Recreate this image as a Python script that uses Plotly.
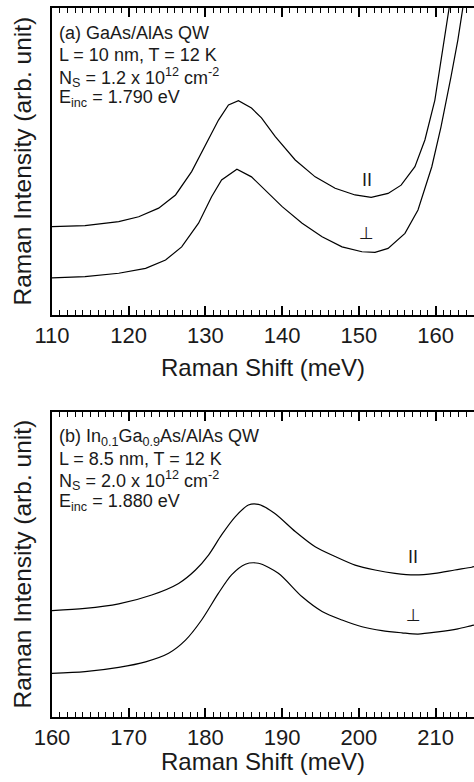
import plotly.graph_objects as go

# ---- Panel (a): GaAs/AlAs QW ----
a_par_x = [110, 114.3, 118.7, 121.3, 123.9, 126.1, 128.2, 130.0, 131.7, 133.0, 134.3, 136.0, 137.3,
           139.1, 141.7, 144.3, 146.9, 149.5, 151.6, 153.8, 155.5, 157.3, 158.6, 159.9, 160.9, 161.8, 162.5]
a_par_y = [28.8, 29.1, 30.4, 32.0, 34.8, 39.1, 46.7, 55.4, 63.5, 68.4, 69.8, 67.4, 64.2,
           58.1, 50.5, 45.0, 41.3, 39.1, 38.3, 39.6, 42.3, 48.3, 57.0, 70.0, 86.3, 99.9, 112]
a_perp_x = [110, 114.3, 118.7, 122.2, 124.8, 126.9, 129.1, 130.8, 132.1, 134.1, 136.0, 137.3, 140.0,
            142.6, 145.2, 147.8, 150.4, 152.1, 153.8, 156.0, 157.7, 159.5, 160.7, 162.0, 162.9, 163.5, 164.2]
a_perp_y = [12.1, 12.5, 13.6, 15.2, 17.9, 22.2, 29.9, 38.5, 44.0, 47.5, 45.0, 41.8, 35.3,
            29.9, 25.5, 22.2, 20.6, 20.4, 21.7, 26.6, 34.2, 48.3, 61.3, 77.6, 89.6, 99.3, 112]

# ---- Panel (b): In0.1Ga0.9As/AlAs QW ----
b_par_x = [160, 164.3, 168.7, 173.0, 176.5, 178.7, 180.4, 182.1, 183.9, 185.6, 186.9, 189.0, 191.7,
           194.3, 196.9, 199.5, 202.1, 204.7, 207.3, 209.9, 212.5, 214.7, 215]
b_par_y = [34.9, 35.6, 37.1, 40.0, 43.8, 48.2, 53.1, 59.7, 65.7, 69.5, 69.7, 66.8, 60.8,
           55.8, 52.6, 49.8, 48.2, 47.1, 46.6, 47.1, 48.2, 49.1, 49.3]
b_perp_x = [160, 164.3, 168.7, 172.2, 175.2, 177.4, 179.5, 181.7, 183.4, 185.2, 186.9, 189.5, 192.6,
            195.2, 197.8, 200.4, 203.0, 205.6, 207.7, 210.3, 212.9, 214.6, 215]
b_perp_y = [14.3, 14.9, 16.3, 18.1, 20.9, 25.2, 31.8, 40.6, 46.6, 50.1, 50.4, 47.1, 39.4,
            34.6, 31.8, 29.6, 28.3, 27.6, 27.2, 27.9, 28.9, 29.9, 30.1]

a_tick0, b_tick0, major_step, minor_step = 110, 160, 10, 1

a_text = ["(a) GaAs/AlAs QW",
          "L = 10 nm, T = 12 K",
          "N<sub>S</sub> = 1.2 x 10<sup>12</sup> cm<sup>-2</sup>",
          "E<sub>inc</sub> = 1.790 eV"]
b_text = ["(b) In<sub>0.1</sub>Ga<sub>0.9</sub>As/AlAs QW",
          "L = 8.5 nm, T = 12 K",
          "N<sub>S</sub> = 2.0 x 10<sup>12</sup> cm<sup>-2</sup>",
          "E<sub>inc</sub> = 1.880 eV"]
pol_labels = ["II", "⊥"]
a_label_pos = [(151.0, 44.0), (151.0, 26.7)]
b_label_pos = [(207.1, 52.5), (207.1, 33.4)]

FONT = "Liberation Sans, Arial, sans-serif"
TXT = "#1a1a1a"
W, H = 474, 782
ml, mr, mt, mb = 52, 0, 8, 65
ph = H - mt - mb
top_dom = [(717 - 315) / ph, 1.0]
bot_dom = [0.0, (717 - 412) / ph]

fig = go.Figure()
line_a = dict(color="black", width=1.2)
line_b = dict(color="black", width=1.2, shape="spline", smoothing=0.8)
fig.add_trace(go.Scatter(x=a_par_x, y=a_par_y, mode="lines", line=line_a, xaxis="x", yaxis="y", showlegend=False))
fig.add_trace(go.Scatter(x=a_perp_x, y=a_perp_y, mode="lines", line=line_a, xaxis="x", yaxis="y", showlegend=False))
fig.add_trace(go.Scatter(x=b_par_x, y=b_par_y, mode="lines", line=line_b, xaxis="x2", yaxis="y2", showlegend=False))
fig.add_trace(go.Scatter(x=b_perp_x, y=b_perp_y, mode="lines", line=line_b, xaxis="x2", yaxis="y2", showlegend=False))

def xax(rng, tick0, anchor):
    return dict(range=rng, tickmode="linear", tick0=tick0, dtick=major_step,
                ticks="inside", ticklen=9, tickwidth=1.5, tickcolor="black",
                showline=True, linewidth=2, linecolor="black",
                mirror="ticks", showgrid=False, zeroline=False, anchor=anchor,
                tickfont=dict(family=FONT, size=22, color=TXT),
                minor=dict(tickmode="linear", tick0=tick0, dtick=minor_step, ticks="inside",
                           ticklen=5, tickwidth=1.2, tickcolor="black", showgrid=False))

def yax(dom, anchor):
    return dict(domain=dom, range=[0, 100], showticklabels=False, showline=True,
                linewidth=2, linecolor="black", anchor=anchor)

fig.layout["xaxis"] = xax([110, 165], a_tick0, "y")
fig.layout["yaxis"] = yax(top_dom, "x")
fig.layout["xaxis2"] = xax([160, 215], b_tick0, "y2")
fig.layout["yaxis2"] = yax(bot_dom, "x2")
fig.update_layout(width=W, height=H, margin=dict(l=ml, r=mr, t=mt, b=mb), plot_bgcolor="white")

ann = []
def add_block(lines, xref, yref, ys):
    for t, yy in zip(lines, ys):
        ann.append(dict(text=t, x=0.012, y=yy, xref=xref, yref=yref, xanchor="left", yanchor="middle",
                        showarrow=False, font=dict(family=FONT, size=18, color=TXT)))
add_block(a_text, "x domain", "y domain", [0.919, 0.847, 0.775, 0.704])
add_block(b_text, "x2 domain", "y2 domain", [0.918, 0.846, 0.774, 0.702])

for (px, py), lab in zip(a_label_pos, pol_labels):
    ann.append(dict(text=lab, x=px, y=py, xref="x", yref="y", showarrow=False,
                    font=dict(family="DejaVu Sans, sans-serif", size=17, color=TXT)))
for (px, py), lab in zip(b_label_pos, pol_labels):
    ann.append(dict(text=lab, x=px, y=py, xref="x2", yref="y2", showarrow=False,
                    font=dict(family="DejaVu Sans, sans-serif", size=17, color=TXT)))

pw = W - ml - mr
for yc in [(top_dom[0] + top_dom[1]) / 2, (bot_dom[0] + bot_dom[1]) / 2]:
    ann.append(dict(text="Raman Intensity (arb. unit)", x=(22 - ml) / pw, y=yc, xref="paper", yref="paper",
                    textangle=-90, xanchor="center", yanchor="middle", showarrow=False,
                    font=dict(family=FONT, size=24.5, color=TXT)))
for yc in [(717 - 367) / ph, (717 - 762) / ph]:
    ann.append(dict(text="Raman Shift (meV)", x=(263 - ml) / pw, y=yc, xref="paper", yref="paper",
                    xanchor="center", yanchor="middle", showarrow=False,
                    font=dict(family=FONT, size=24, color=TXT)))
fig.update_layout(annotations=ann)

fig.write_html("out.html", config={"displayModeBar": False},
               post_script="document.body.style.margin='0';document.body.style.overflow='hidden';")
